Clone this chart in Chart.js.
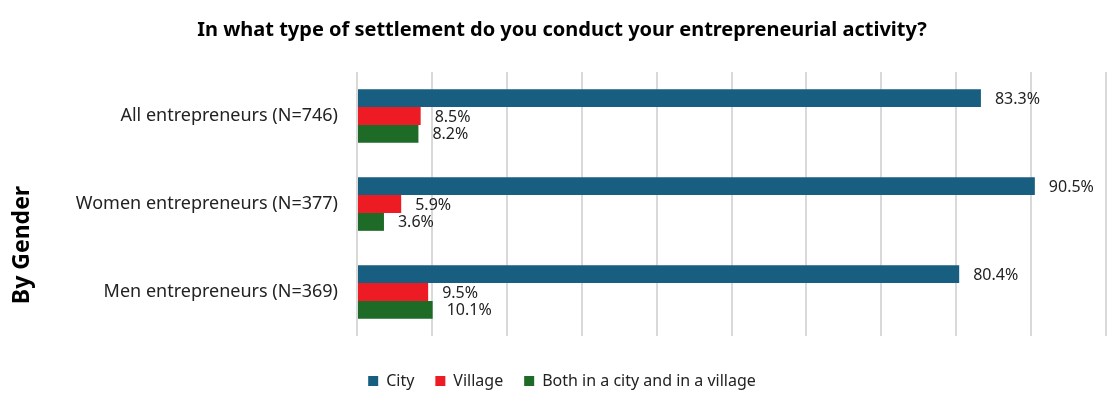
<!DOCTYPE html>
<html>
<head>
<meta charset="utf-8">
<script src="https://cdn.jsdelivr.net/npm/chart.js@4"></script>
<style>
  html, body { margin: 0; padding: 0; background: #fff; }
  #wrap { width: 1120px; height: 399px; position: relative; }
</style>
</head>
<body>
<div id="wrap"><canvas id="settlementChart"></canvas></div>
<script>
// Antworten je Gruppe (Anteile in %)
const groups = ['All entrepreneurs (N=746)', 'Women entrepreneurs (N=377)', 'Men entrepreneurs (N=369)'];
const cityValues = [83.3, 90.5, 80.4];
const villageValues = [8.5, 5.9, 9.5];
const bothValues = [8.2, 3.6, 10.1];
const seriesNames = ['City', 'Village', 'Both in a city and in a village'];

const FONT = '"Noto Sans", "Open Sans", sans-serif';

// Werte rechts neben den Balken
const valueLabels = {
  id: 'valueLabels',
  afterDatasetsDraw(chart) {
    const ctx = chart.ctx;
    ctx.save();
    ctx.font = '16px ' + FONT;
    ctx.fillStyle = '#222';
    ctx.textAlign = 'left';
    ctx.textBaseline = 'middle';
    chart.data.datasets.forEach((ds, i) => {
      chart.getDatasetMeta(i).data.forEach((bar, j) => {
        ctx.fillText(ds.data[j].toFixed(1) + '%', bar.x + 14, bar.y + 1);
      });
    });
    ctx.restore();
  }
};

// senkrechter Gruppentitel links
const sideTitle = {
  id: 'sideTitle',
  afterDraw(chart) {
    const ctx = chart.ctx;
    const area = chart.chartArea;
    ctx.save();
    ctx.translate(22, (area.top + area.bottom) / 2 + 41);
    ctx.rotate(-Math.PI / 2);
    ctx.font = 'bold 23px ' + FONT;
    ctx.fillStyle = '#000';
    ctx.textAlign = 'center';
    ctx.textBaseline = 'middle';
    ctx.fillText('By Gender', 0, 0);
    ctx.restore();
  }
};

const ctx = document.getElementById('settlementChart').getContext('2d');
new Chart(ctx, {
  type: 'bar',
  data: {
    labels: groups,
    datasets: [
      { label: seriesNames[0], data: cityValues, backgroundColor: '#185e80' },
      { label: seriesNames[1], data: villageValues, backgroundColor: '#ed1c24' },
      { label: seriesNames[2], data: bothValues, backgroundColor: '#1e6a27' }
    ]
  },
  options: {
    indexAxis: 'y',
    responsive: true,
    maintainAspectRatio: false,
    animation: false,
    barPercentage: 1,
    categoryPercentage: 0.61,
    layout: { padding: { left: 18, right: 14, top: 0, bottom: 0 } },
    scales: {
      x: {
        min: 0,
        max: 100,
        ticks: { display: false, stepSize: 10 },
        border: { display: false },
        grid: { color: '#d9d9d9', lineWidth: 2, drawTicks: false },
        afterFit(scale) { scale.height = 16; }
      },
      y: {
        border: { display: false },
        grid: { display: false },
        ticks: { color: '#222', padding: 11, font: { family: FONT, size: 18 } },
        afterFit(scale) { scale.width = 339; }
      }
    },
    plugins: {
      title: {
        display: true,
        text: 'In what type of settlement do you conduct your entrepreneurial activity?',
        color: '#000',
        font: { family: FONT, size: 20, weight: 'bold' },
        padding: { top: 18, bottom: 30 }
      },
      legend: {
        position: 'bottom',
        labels: {
          color: '#222',
          boxWidth: 10,
          boxHeight: 10,
          padding: 21,
          font: { family: FONT, size: 16 }
        }
      },
      tooltip: { enabled: false }
    }
  },
  plugins: [valueLabels, sideTitle]
});
</script>
</body>
</html>
